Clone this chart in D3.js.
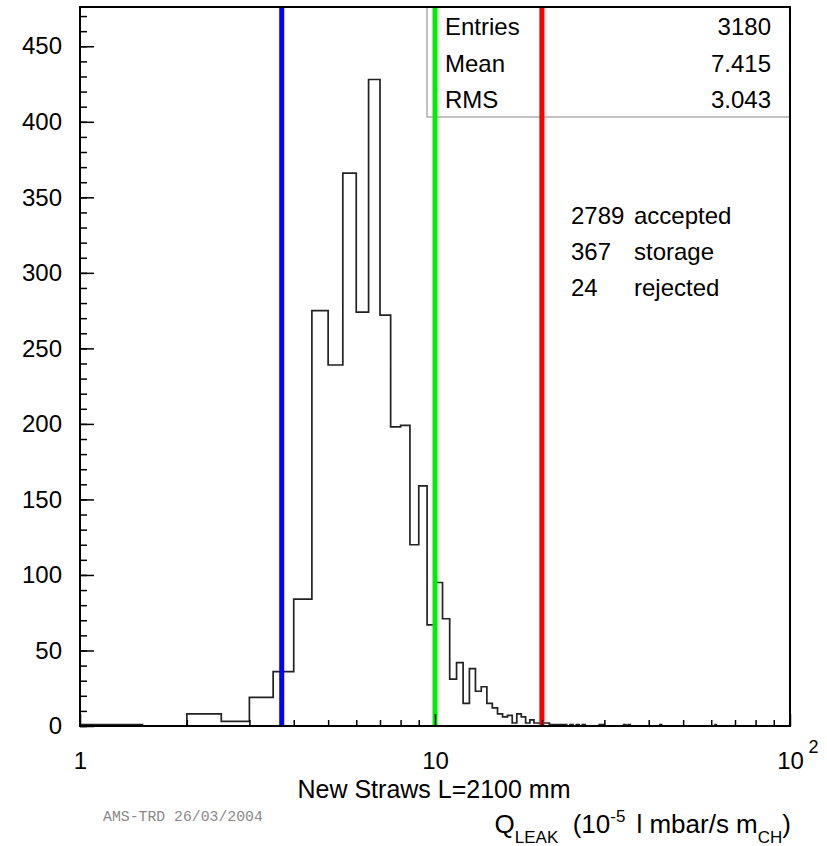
<!DOCTYPE html>
<html>
<head>
<meta charset="utf-8">
<script src="https://cdn.jsdelivr.net/npm/d3@7"></script>
<style>
  body { margin: 0; background: #fff; }
  text { font-family: "Liberation Sans", Arial, Helvetica, sans-serif; }
</style>
</head>
<body>
<script>
// histogram: lower edge of each non-empty bin (bins are 0.5 wide) and its count
const binLow = [1, 2, 2.5, 3, 3.5, 4, 4.5, 5, 5.5, 6, 6.5, 7, 7.5, 8, 8.5, 9, 9.5,
  10, 10.5, 11, 11.5, 12, 12.5, 13, 13.5, 14, 14.5, 15, 15.5, 16, 16.5, 17, 17.5,
  18, 18.5, 19, 19.5, 20, 20.5, 21, 21.5, 22, 22.5, 23, 24, 25, 26, 29, 29.5, 34,
  35, 43, 61.5];
const counts = [1, 8, 3, 19, 36, 84, 275, 239, 366, 274, 428, 272, 198, 199, 120, 159, 67,
  95, 71, 31, 42, 15, 38, 23, 26, 15, 12, 8, 6, 7, 2, 8, 6,
  2, 4, 2, 2, 2, 2, 1, 1, 1, 1, 1, 1, 1, 1, 1, 1, 1,
  1, 1, 1];
const binWidth = 0.5;

// cut lines
const cutValues = [3.7, 10, 20];
const cutColors = ["#0000ff", "#00ee00", "#ff0000"];

// stats box and annotation
const statsLabels = ["Entries", "Mean", "RMS"];
const statsValues = ["3180", "7.415", "3.043"];
const noteCounts = ["2789", "367", "24"];
const noteLabels = ["accepted", "storage", "rejected"];

// axis ticks
const yMajor = [0, 50, 100, 150, 200, 250, 300, 350, 400, 450];
const yMinor = d3.range(0, 471, 10);
const xMajor = [1, 10, 100];
const xMinor = [2, 3, 4, 5, 6, 7, 8, 9, 20, 30, 40, 50, 60, 70, 80, 90];

const w = 827;
const h = 846;
const padLeft = 80, padRight = 790, padTop = 7, padBottom = 726;

const svg = d3.select("body").append("svg").attr("width", w).attr("height", h);

const xScale = d3.scaleLog().domain([1, 100]).range([padLeft, padRight]);
const yScale = d3.scaleLinear().domain([0, 476]).range([padBottom, padTop]);

// stats box (drawn under the cut lines)
const boxX = 427, boxY = 7, boxW = padRight - boxX, boxH = 110;
svg.append("rect")
  .attr("x", boxX).attr("y", boxY).attr("width", boxW).attr("height", boxH)
  .attr("fill", "#fff").attr("stroke", "#999").attr("stroke-width", 1.2);
statsLabels.forEach((s, i) => {
  svg.append("text").attr("x", 445).attr("y", 35 + i * 36.7)
    .attr("font-size", 24).text(s);
  svg.append("text").attr("x", 771).attr("y", 35 + i * 36.7)
    .attr("font-size", 24).attr("text-anchor", "end").text(statsValues[i]);
});

// histogram outline
let path = d3.path();
let prevHi = binLow[0];
path.moveTo(xScale(binLow[0]), yScale(0));
binLow.forEach((lo, i) => {
  const hi = lo + binWidth;
  if (lo > prevHi) {
    path.lineTo(xScale(prevHi), yScale(0));
    path.lineTo(xScale(lo), yScale(0));
  }
  path.lineTo(xScale(lo), yScale(counts[i]));
  path.lineTo(xScale(hi), yScale(counts[i]));
  prevHi = hi;
});
path.lineTo(xScale(prevHi), yScale(0));
svg.append("path")
  .attr("d", path.toString())
  .attr("fill", "none")
  .attr("stroke", "#222")
  .attr("stroke-width", 1.7);

// cut lines
svg.selectAll(".cut")
  .data(cutValues)
  .enter()
  .append("line")
  .attr("class", "cut")
  .attr("x1", (d) => xScale(d)).attr("x2", (d) => xScale(d))
  .attr("y1", padTop).attr("y2", padBottom)
  .attr("stroke", (d, i) => cutColors[i])
  .attr("stroke-width", 5);

// y axis
const yAxis = d3.axisLeft(yScale).tickValues(yMajor).tickSizeInner(-14).tickSizeOuter(0).tickPadding(18);
const yMinorAxis = d3.axisLeft(yScale).tickValues(yMinor).tickSizeInner(-7).tickSizeOuter(0).tickFormat("");
svg.append("g").attr("transform", `translate(${padLeft},0)`).call(yMinorAxis);
const gy = svg.append("g").attr("id", "y-axis").attr("transform", `translate(${padLeft},0)`).call(yAxis);
svg.selectAll(".domain").remove();

// x axis
const xAxis = d3.axisBottom(xScale).tickValues(xMajor).tickSizeInner(-12).tickSizeOuter(0).tickPadding(26)
  .tickFormat((d) => (d === 100 ? "10" : String(d)));
const xMinorAxis = d3.axisBottom(xScale).tickValues(xMinor).tickSizeInner(-6).tickSizeOuter(0).tickFormat("");
svg.append("g").attr("transform", `translate(0,${padBottom})`).call(xMinorAxis);
const gx = svg.append("g").attr("id", "x-axis").attr("transform", `translate(0,${padBottom})`).call(xAxis);
svg.selectAll(".domain").remove();

svg.selectAll(".tick text").attr("font-size", 24).attr("fill", "#000");
svg.selectAll(".tick line").attr("stroke", "#000").attr("stroke-width", 1.5);

gx.selectAll(".tick").filter((d) => d === 100)
  .append("text")
  .attr("x", 18).attr("y", 27)
  .attr("fill", "#000").attr("font-size", 18).attr("text-anchor", "start")
  .text("2");

// frame
svg.append("rect")
  .attr("x", padLeft).attr("y", padTop).attr("width", padRight - padLeft).attr("height", padBottom - padTop)
  .attr("fill", "none").attr("stroke", "#000").attr("stroke-width", 2);

// annotation
noteCounts.forEach((s, i) => {
  svg.append("text").attr("x", 571).attr("y", 224 + i * 36)
    .attr("font-size", 24).text(s);
  svg.append("text").attr("x", 634).attr("y", 224 + i * 36)
    .attr("font-size", 24).text(noteLabels[i]);
});

// axis titles
svg.append("text")
  .attr("x", 434).attr("y", 798)
  .attr("font-size", 25).attr("text-anchor", "middle")
  .text("New Straws L=2100 mm");

const qt = svg.append("text")
  .attr("x", 791).attr("y", 833)
  .attr("font-size", 26).attr("text-anchor", "end");
qt.append("tspan").text("Q");
qt.append("tspan").attr("font-size", 17).attr("dy", 10).text("LEAK");
qt.append("tspan").attr("dy", -10).text("\u00a0 (10");
qt.append("tspan").attr("font-size", 17).attr("dy", -11).text("-5");
qt.append("tspan").attr("dy", 11).attr("dx", 11).text("l mbar/s m");
qt.append("tspan").attr("font-size", 17).attr("dy", 10).text("CH");
qt.append("tspan").attr("dy", -10).text(")");

svg.append("text")
  .attr("x", 103).attr("y", 821)
  .attr("font-size", 14.8)
  .attr("fill", "#888")
  .style("font-family", "'Liberation Mono', 'DejaVu Sans Mono', monospace")
  .text("AMS-TRD 26/03/2004");
</script>
</body>
</html>
